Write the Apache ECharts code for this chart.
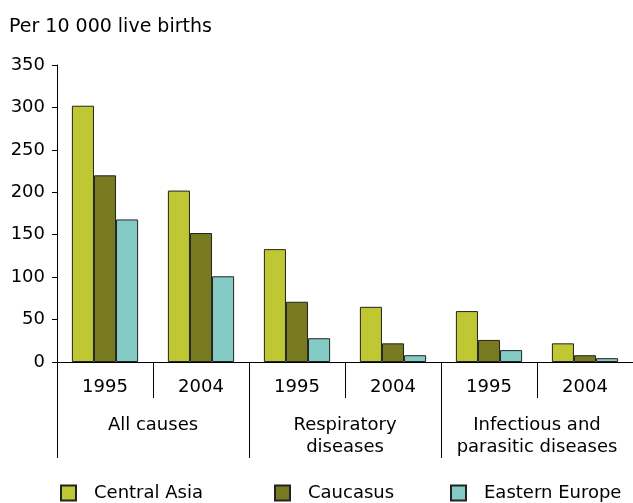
<!DOCTYPE html>
<html><head><meta charset="utf-8">
<script src="https://cdn.jsdelivr.net/npm/echarts@6/dist/echarts.min.js"></script>
<style>html,body{margin:0;padding:0;background:#fff}#c{width:633px;height:503px}</style>
</head><body><div id="c"></div>
<script>
const years = ['1995','2004','1995','2004','1995','2004'];
const groups = ['All causes','Respiratory\ndiseases','Infectious and\nparasitic diseases'];
const seriesNames = ['Central Asia','Caucasus','Eastern Europe'];
const centralAsia = [302, 202, 133, 65, 60, 22];
const caucasus = [220, 152, 71, 22, 26, 8];
const easternEurope = [168, 101, 28, 8, 14, 4.5];
const yTicks = {min:0, max:350, interval:50};
const unitLabel = 'Per 10 000 live births';

const FONT = 'DejaVu Sans';
const FS = 18;
const colors = ['#BFC832','#787A20','#84CBC6'];
const vals = [centralAsia, caucasus, easternEurope];
const chart = echarts.init(document.getElementById('c'));
chart.setOption({
  animation:false,
  textStyle:{fontFamily:FONT},
  title:{text:unitLabel, left:4, top:13, textStyle:{fontFamily:FONT, fontSize:19, fontWeight:'normal', color:'#000'}},
  legend:[0,1,2].map((i)=>({data:[seriesNames[i]], left:[60,274,450][i], top:484, padding:0, itemWidth:15, itemHeight:15, icon:'rect',
    textStyle:{fontFamily:FONT, fontSize:FS, color:'#000', padding:[0,0,0,13]}})),
  grid:{left:57, right:0, top:65, bottom:141, containLabel:false},
  xAxis:[
    {type:'category', data:years, position:'bottom',
     axisLine:{show:true, lineStyle:{color:'#000', width:1}},
     axisTick:{show:true, interval:0, length:36, lineStyle:{color:'#000'}},
     axisLabel:{interval:0, margin:16, fontFamily:FONT, fontSize:FS, color:'#000'}},
    {type:'category', data:groups, position:'bottom',
     axisLine:{show:false},
     axisTick:{show:true, interval:0, length:96, lineStyle:{color:'#000'}},
     axisLabel:{interval:0, margin:52, fontFamily:FONT, fontSize:FS, color:'#000', lineHeight:22, verticalAlign:'top'}}
  ],
  yAxis:{type:'value', min:yTicks.min, max:yTicks.max, interval:yTicks.interval,
    splitLine:{show:false},
    axisLine:{show:true, lineStyle:{color:'#000'}},
    axisTick:{show:true, length:5, lineStyle:{color:'#000'}},
    axisLabel:{fontFamily:FONT, fontSize:FS, color:'#000', margin:12}},
  series:[0,1,2].map(i=>({name:seriesNames[i], type:'bar', xAxisIndex:0, data:vals[i],
    barGap:'0%', barCategoryGap:'31%',
    itemStyle:{color:colors[i], borderColor:'#222', borderWidth:1}}))
});
</script></body></html>
